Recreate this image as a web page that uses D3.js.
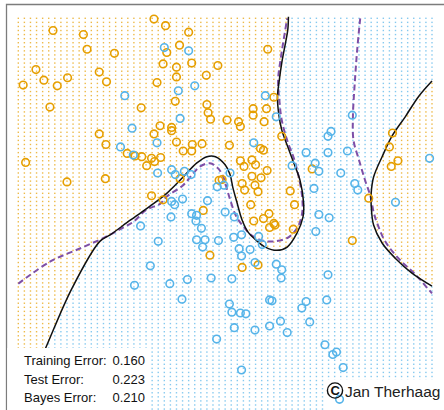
<!DOCTYPE html>
<html>
<head>
<meta charset="utf-8">
<script src="https://cdn.jsdelivr.net/npm/d3@7"></script>
<style>
  html, body { margin: 0; padding: 0; background: #fff; }
  svg { display: block; }
</style>
</head>
<body>
<svg id="chart" width="444" height="410"></svg>
<script>
// ---- training sample: class 0 (orange) and class 1 (blue), in (x1, x2) units ----
const orangePts = [
  [-0.37,2.89],[-0.18,2.81],[-2.03,2.75],[-1.53,2.70],[0.20,2.73],[-1.47,2.52],[-1.02,2.47],[0.05,2.57],
  [-0.16,2.48],[-0.22,2.34],[0.25,2.35],[0.00,2.30],[0.00,2.18],[0.68,2.32],[0.49,2.20],[-2.31,2.27],
  [-2.18,2.14],[-1.79,2.17],[-1.96,2.07],[-2.52,2.08],[-1.27,2.24],[-1.15,2.12],[-0.32,2.11],[-0.02,1.88],
  [-0.58,1.80],[-2.08,1.81],[0.50,1.84],[0.52,1.74],[0.56,1.66],[-0.27,1.58],[-0.08,1.56],[-0.08,1.52],
  [-0.37,1.48],[-1.27,1.48],[-1.16,1.35],[0.00,1.38],[0.26,1.35],[0.42,1.36],[0.11,1.27],[0.25,1.27],
  [-0.81,1.24],[-0.68,1.21],[-0.57,1.20],[-0.41,1.18],[-0.36,1.14],[-0.26,1.19],[-0.49,1.09],[-2.48,1.13],
  [-1.80,0.89],[-1.17,0.93],[0.06,0.93],[0.70,0.91],[-0.41,0.72],[-0.22,0.67],[1.50,2.52],[1.60,1.93],
  [1.26,1.79],[1.26,1.71],[1.48,1.79],[0.83,1.65],[1.02,1.63],[1.05,1.57],[1.44,1.63],[1.73,1.45],
  [0.87,1.34],[1.38,1.30],[1.43,1.28],[1.05,1.15],[1.11,1.08],[1.24,1.16],[1.30,1.10],[1.49,1.03],
  [2.23,1.05],[1.24,0.96],[1.39,0.94],[1.08,0.87],[1.12,0.79],[1.29,0.85],[1.34,0.77],[1.87,0.78],
  [3.16,0.69],[1.22,0.61],[1.94,0.61],[3.55,1.49],[3.50,1.32],[3.64,1.15],[3.53,1.08],[0.75,0.92],
  [0.44,0.54],[1.43,0.44],[1.52,0.50],[1.27,0.41],[1.60,0.38],[1.53,0.33],[1.62,0.36],[1.92,0.31],
  [2.89,0.17],[0.55,-0.01],[1.08,-0.16],[1.34,-0.13]
];
const bluePts = [
  [-0.20,2.54],[0.20,2.50],[0.03,2.01],[0.30,2.07],[-0.85,1.95],[0.06,1.67],[-0.73,1.55],[-0.32,1.37],
  [-0.92,1.32],[-0.71,1.22],[-0.31,1.00],[-0.08,1.04],[-0.02,0.98],[0.13,1.02],[0.24,0.98],[0.51,0.66],
  [0.67,0.83],[-0.08,0.65],[0.10,0.68],[-0.03,0.61],[-0.09,0.46],[-0.59,0.35],[1.46,1.95],[1.64,1.69],
  [2.89,1.71],[1.27,1.37],[2.54,1.51],[2.49,1.45],[2.13,1.25],[2.49,1.25],[2.81,1.27],[4.16,1.18],
  [1.90,1.09],[2.28,1.12],[2.34,1.02],[2.70,1.00],[2.93,0.87],[2.98,0.79],[0.88,1.00],[2.26,0.81],
  [3.60,0.64],[0.78,0.85],[0.25,0.50],[0.33,0.48],[0.32,0.41],[0.41,0.32],[-0.30,0.16],[0.33,0.18],
  [0.47,0.18],[0.43,0.09],[0.69,0.17],[-0.43,-0.14],[-0.69,-0.38],[-0.11,-0.36],[0.18,-0.31],[0.57,-0.29],
  [0.09,-0.55],[0.66,-1.04],[0.80,0.52],[0.95,0.46],[2.34,0.49],[2.51,0.45],[2.29,0.28],[0.94,0.21],
  [1.07,0.24],[1.35,0.22],[1.41,0.12],[1.21,0.06],[1.03,0.07],[1.07,-0.02],[1.29,-0.10],[1.64,-0.12],
  [1.73,-0.19],[1.72,-0.29],[0.91,-0.30],[2.49,-0.25],[0.87,-0.61],[0.91,-0.71],[1.05,-0.72],[1.14,-0.73],
  [1.53,-0.56],[1.57,-0.57],[2.13,-0.58],[2.06,-0.66],[2.47,-0.56],[0.95,-0.90],[1.29,-0.93],[1.53,-0.88],
  [1.71,-0.82],[1.82,-0.96],[2.19,-0.83],[2.44,-1.11],[2.57,-1.23],[2.63,-1.20],[2.74,-1.39],[1.07,-1.42],
  [2.68,-1.78]
];

// ---- fitted (SVM) decision boundary: main branch and right-hand branch ----
const svmMain = [
  [-2.64,-2.00],[-2.15,-1.15],[-1.72,-0.42],[-1.26,0.16],[-1.09,0.24],[-0.76,0.42],[-0.44,0.59],
  [-0.16,0.75],[0.11,0.95],[0.33,1.12],[0.50,1.20],[0.64,1.20],[0.80,1.10],[0.88,0.98],[0.93,0.81],
  [0.99,0.65],[1.08,0.42],[1.18,0.27],[1.30,0.18],[1.46,0.09],[1.65,0.05],[1.82,0.09],[1.98,0.26],
  [2.08,0.46],[2.09,0.63],[2.03,0.91],[1.93,1.12],[1.82,1.34],[1.73,1.53],[1.68,1.73],[1.66,1.94],
  [1.69,2.14],[1.73,2.35],[1.79,2.59],[1.83,2.76],[1.84,2.92]
];
const svmRight = [
  [4.20,2.13],[3.98,1.94],[3.76,1.69],[3.54,1.45],[3.38,1.20],[3.24,0.95],[3.20,0.75],[3.20,0.61],
  [3.24,0.36],[3.38,0.14],[3.60,-0.05],[3.87,-0.23],[4.20,-0.39]
];

// ---- Bayes decision boundary ----
const bayesMain = [
  [-2.60,-0.36],[-2.08,-0.09],[-1.53,0.09],[-1.15,0.22],[-0.90,0.32],[-0.71,0.40],[-0.49,0.55],
  [-0.27,0.62],[-0.16,0.71],[0.11,0.85],[0.28,1.00],[0.39,1.08],[0.55,1.12],[0.68,1.06],[0.77,0.95],
  [0.83,0.80],[0.90,0.63],[0.98,0.47],[1.09,0.35],[1.24,0.23],[1.41,0.17],[1.62,0.16],[1.84,0.21],
  [1.98,0.32],[2.06,0.48],[2.07,0.67],[2.01,0.95],[1.93,1.18],[1.82,1.40],[1.73,1.65],[1.69,1.90],
  [1.67,2.14],[1.71,2.39],[1.76,2.63],[1.82,2.90]
];
const bayesRight = [
  [3.02,2.90],[2.97,2.51],[2.93,2.10],[2.90,1.69],[2.91,1.40],[3.00,1.16],[3.10,0.91],[3.19,0.71],
  [3.24,0.52],[3.30,0.38],[3.43,0.16],[3.65,-0.05],[3.93,-0.25],[4.20,-0.48]
];

// ---- prediction grid and annotation text ----
const gridX = d3.range(69).map(i => +(-2.6 + i * 0.1).toFixed(2));
const gridY = d3.range(99).map(j => +(-2 + j * 0.05).toFixed(2));
const errorLabels = ["Training Error:", "Test Error:", "Bayes Error:"];
const errorValues = ["0.160", "0.223", "0.210"];
const credit = "Jan Therhaag";

const W = 444, H = 410;
const ORANGE = "#E69F00", BLUE = "#56B4E9", PURPLE = "#7E4FA7";

const x = d3.scaleLinear().domain([-2.6, 4.2]).range([18.3, 432]);
const y = d3.scaleLinear().domain([-2, 2.9]).range([417.2, 18.3]);
const toPx = p => [x(p[0]), y(p[1])];

const svg = d3.select("#chart");

// panel frame (runs off the right and bottom of the view)
svg.append("path")
  .attr("d", `M6.5,${H + 5} V4.5 H${W + 5}`)
  .attr("fill", "none").attr("stroke", "#7c7c7c").attr("stroke-width", 1.3);

// regions predicted as orange by the fitted boundary
const mainRegion = svmMain.map(toPx).concat([
  toPx([1.84, 3.6]), toPx([-3.2, 3.6]), toPx([-3.2, -2.6]), toPx([-2.64, -2.6])
]);
const rightRegion = svmRight.map(toPx).concat([toPx([5, -0.39]), toPx([5, 2.13])]);

const cells = [];
gridX.forEach(a => gridY.forEach(b => {
  const p = [x(a), y(b)];
  const orange = d3.polygonContains(mainRegion, p) || d3.polygonContains(rightRegion, p);
  cells.push({ a, b, orange });
}));

svg.append("g").selectAll("rect").data(cells).join("rect")
  .attr("x", d => x(d.a) - 0.7).attr("y", d => y(d.b) - 0.7)
  .attr("width", 1.4).attr("height", 1.4)
  .attr("fill", d => d.orange ? ORANGE : BLUE)
  .attr("opacity", 0.72);

// boundaries
svg.append("clipPath").attr("id", "plotclip")
  .append("rect").attr("x", 17).attr("y", 15).attr("width", 416).attr("height", 405);

const line = d3.line().x(d => x(d[0])).y(d => y(d[1])).curve(d3.curveCatmullRom.alpha(0.5));
const lines = svg.append("g").attr("clip-path", "url(#plotclip)");

[bayesMain, bayesRight].forEach(c => {
  lines.append("path").attr("d", line(c))
    .attr("fill", "none").attr("stroke", PURPLE).attr("stroke-width", 2)
    .attr("stroke-dasharray", "6,3.5");
});
[svmMain, svmRight].forEach(c => {
  lines.append("path").attr("d", line(c))
    .attr("fill", "none").attr("stroke", "#111").attr("stroke-width", 1.5);
});

// white backing for the annotations
svg.append("rect").attr("x", 7.3).attr("y", 348).attr("width", 143.5).attr("height", 70).attr("fill", "#fff");
svg.append("rect").attr("x", 326).attr("y", 380).attr("width", 120).attr("height", 35).attr("fill", "#fff");

// training points
const pts = svg.append("g").attr("fill", "none").attr("stroke-width", 1.6);
pts.selectAll("circle.o").data(orangePts).join("circle").attr("class", "o")
  .attr("cx", d => x(d[0])).attr("cy", d => y(d[1])).attr("r", 3.8).attr("stroke", ORANGE);
pts.selectAll("circle.b").data(bluePts).join("circle").attr("class", "b")
  .attr("cx", d => x(d[0])).attr("cy", d => y(d[1])).attr("r", 3.8).attr("stroke", BLUE);

// error summary
const txt = svg.append("g")
  .attr("font-family", "'Liberation Sans', Arial, sans-serif")
  .attr("font-size", 13).attr("fill", "#111");
errorLabels.forEach((lab, i) => {
  txt.append("text").attr("x", 24).attr("y", 365 + i * 18.7).text(lab);
  txt.append("text").attr("x", 145).attr("y", 365 + i * 18.7)
    .attr("text-anchor", "end").text(errorValues[i]);
});

// credit line with circled C
const cr = svg.append("g");
cr.append("circle").attr("cx", 335).attr("cy", 390.5).attr("r", 7.6)
  .attr("fill", "none").attr("stroke", "#111").attr("stroke-width", 1.4);
cr.append("text").attr("x", 335.3).attr("y", 395.3).attr("text-anchor", "middle")
  .attr("font-family", "'Liberation Sans', Arial, sans-serif").attr("font-size", 13)
  .attr("font-weight", "bold").attr("fill", "#111").text("C");
cr.append("text").attr("x", 345).attr("y", 396.5)
  .attr("font-family", "'Liberation Sans', Arial, sans-serif").attr("font-size", 15.5)
  .attr("fill", "#222").text(credit);
</script>
</body>
</html>
